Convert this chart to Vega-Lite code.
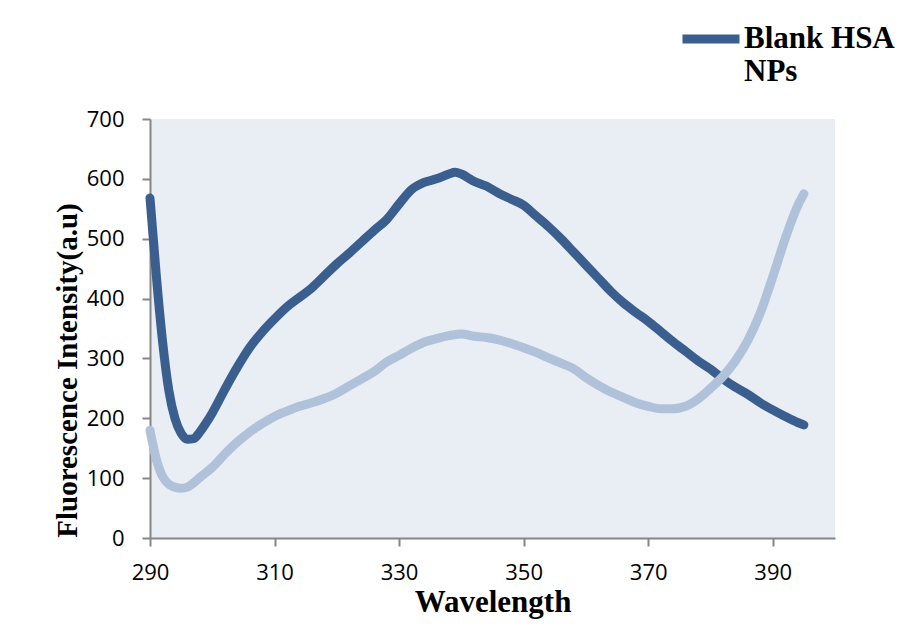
{
  "$schema": "https://vega.github.io/schema/vega-lite/v6.json",
  "autosize": {"type": "none"},
  "padding": {"left": 150, "top": 119, "right": 80, "bottom": 90},
  "width": 685,
  "height": 419,
  "background": "white",
  "config": {
    "view": {"fill": "#E9EDF4", "stroke": null},
    "axis": {
      "domainColor": "#868686",
      "domainWidth": 2,
      "tickColor": "#868686",
      "tickWidth": 2,
      "tickSize": 8,
      "grid": false,
      "labelFont": "Open Sans",
      "labelFontSize": 22,
      "labelColor": "#000000",
      "labelPadding": 18,
      "labelFlush": false,
      "titleFont": "Liberation Serif",
      "titleFontWeight": "bold",
      "titleColor": "#000000"
    }
  },
  "datasets": {
    "spectra": [
      {"wavelength": 290, "intensity": 568, "series": "Blank HSA NPs"},
      {"wavelength": 291, "intensity": 440, "series": "Blank HSA NPs"},
      {"wavelength": 292, "intensity": 330, "series": "Blank HSA NPs"},
      {"wavelength": 293, "intensity": 248, "series": "Blank HSA NPs"},
      {"wavelength": 294, "intensity": 200, "series": "Blank HSA NPs"},
      {"wavelength": 295, "intensity": 175, "series": "Blank HSA NPs"},
      {"wavelength": 296, "intensity": 165, "series": "Blank HSA NPs"},
      {"wavelength": 297, "intensity": 166, "series": "Blank HSA NPs"},
      {"wavelength": 298, "intensity": 177, "series": "Blank HSA NPs"},
      {"wavelength": 299, "intensity": 192, "series": "Blank HSA NPs"},
      {"wavelength": 300, "intensity": 209, "series": "Blank HSA NPs"},
      {"wavelength": 302, "intensity": 248, "series": "Blank HSA NPs"},
      {"wavelength": 304, "intensity": 285, "series": "Blank HSA NPs"},
      {"wavelength": 306, "intensity": 318, "series": "Blank HSA NPs"},
      {"wavelength": 308, "intensity": 344, "series": "Blank HSA NPs"},
      {"wavelength": 310, "intensity": 366, "series": "Blank HSA NPs"},
      {"wavelength": 312, "intensity": 386, "series": "Blank HSA NPs"},
      {"wavelength": 314, "intensity": 402, "series": "Blank HSA NPs"},
      {"wavelength": 316, "intensity": 418, "series": "Blank HSA NPs"},
      {"wavelength": 318, "intensity": 438, "series": "Blank HSA NPs"},
      {"wavelength": 320, "intensity": 458, "series": "Blank HSA NPs"},
      {"wavelength": 322, "intensity": 476, "series": "Blank HSA NPs"},
      {"wavelength": 324, "intensity": 495, "series": "Blank HSA NPs"},
      {"wavelength": 326, "intensity": 514, "series": "Blank HSA NPs"},
      {"wavelength": 328, "intensity": 532, "series": "Blank HSA NPs"},
      {"wavelength": 330, "intensity": 558, "series": "Blank HSA NPs"},
      {"wavelength": 332, "intensity": 582, "series": "Blank HSA NPs"},
      {"wavelength": 334, "intensity": 594, "series": "Blank HSA NPs"},
      {"wavelength": 336, "intensity": 600, "series": "Blank HSA NPs"},
      {"wavelength": 338, "intensity": 608, "series": "Blank HSA NPs"},
      {"wavelength": 339, "intensity": 611, "series": "Blank HSA NPs"},
      {"wavelength": 340, "intensity": 608, "series": "Blank HSA NPs"},
      {"wavelength": 342, "intensity": 596, "series": "Blank HSA NPs"},
      {"wavelength": 344, "intensity": 588, "series": "Blank HSA NPs"},
      {"wavelength": 346, "intensity": 576, "series": "Blank HSA NPs"},
      {"wavelength": 348, "intensity": 566, "series": "Blank HSA NPs"},
      {"wavelength": 350, "intensity": 556, "series": "Blank HSA NPs"},
      {"wavelength": 352, "intensity": 538, "series": "Blank HSA NPs"},
      {"wavelength": 354, "intensity": 520, "series": "Blank HSA NPs"},
      {"wavelength": 356, "intensity": 500, "series": "Blank HSA NPs"},
      {"wavelength": 358, "intensity": 478, "series": "Blank HSA NPs"},
      {"wavelength": 360, "intensity": 456, "series": "Blank HSA NPs"},
      {"wavelength": 362, "intensity": 434, "series": "Blank HSA NPs"},
      {"wavelength": 364, "intensity": 412, "series": "Blank HSA NPs"},
      {"wavelength": 366, "intensity": 393, "series": "Blank HSA NPs"},
      {"wavelength": 368, "intensity": 377, "series": "Blank HSA NPs"},
      {"wavelength": 370, "intensity": 362, "series": "Blank HSA NPs"},
      {"wavelength": 372, "intensity": 345, "series": "Blank HSA NPs"},
      {"wavelength": 374, "intensity": 328, "series": "Blank HSA NPs"},
      {"wavelength": 376, "intensity": 312, "series": "Blank HSA NPs"},
      {"wavelength": 378, "intensity": 296, "series": "Blank HSA NPs"},
      {"wavelength": 380, "intensity": 282, "series": "Blank HSA NPs"},
      {"wavelength": 382, "intensity": 266, "series": "Blank HSA NPs"},
      {"wavelength": 384, "intensity": 252, "series": "Blank HSA NPs"},
      {"wavelength": 386, "intensity": 240, "series": "Blank HSA NPs"},
      {"wavelength": 388, "intensity": 226, "series": "Blank HSA NPs"},
      {"wavelength": 390, "intensity": 214, "series": "Blank HSA NPs"},
      {"wavelength": 392, "intensity": 203, "series": "Blank HSA NPs"},
      {"wavelength": 394, "intensity": 193, "series": "Blank HSA NPs"},
      {"wavelength": 395, "intensity": 189, "series": "Blank HSA NPs"},
      {"wavelength": 290, "intensity": 180, "series": "Other"},
      {"wavelength": 291, "intensity": 132, "series": "Other"},
      {"wavelength": 292, "intensity": 103, "series": "Other"},
      {"wavelength": 293, "intensity": 90, "series": "Other"},
      {"wavelength": 294, "intensity": 85, "series": "Other"},
      {"wavelength": 295, "intensity": 83, "series": "Other"},
      {"wavelength": 296, "intensity": 85, "series": "Other"},
      {"wavelength": 297, "intensity": 92, "series": "Other"},
      {"wavelength": 298, "intensity": 101, "series": "Other"},
      {"wavelength": 300, "intensity": 118, "series": "Other"},
      {"wavelength": 302, "intensity": 140, "series": "Other"},
      {"wavelength": 304, "intensity": 160, "series": "Other"},
      {"wavelength": 306, "intensity": 177, "series": "Other"},
      {"wavelength": 308, "intensity": 191, "series": "Other"},
      {"wavelength": 310, "intensity": 203, "series": "Other"},
      {"wavelength": 312, "intensity": 212, "series": "Other"},
      {"wavelength": 314, "intensity": 220, "series": "Other"},
      {"wavelength": 316, "intensity": 226, "series": "Other"},
      {"wavelength": 318, "intensity": 233, "series": "Other"},
      {"wavelength": 320, "intensity": 242, "series": "Other"},
      {"wavelength": 322, "intensity": 254, "series": "Other"},
      {"wavelength": 324, "intensity": 266, "series": "Other"},
      {"wavelength": 326, "intensity": 278, "series": "Other"},
      {"wavelength": 328, "intensity": 294, "series": "Other"},
      {"wavelength": 330, "intensity": 305, "series": "Other"},
      {"wavelength": 332, "intensity": 317, "series": "Other"},
      {"wavelength": 334, "intensity": 327, "series": "Other"},
      {"wavelength": 336, "intensity": 333, "series": "Other"},
      {"wavelength": 338, "intensity": 338, "series": "Other"},
      {"wavelength": 340, "intensity": 341, "series": "Other"},
      {"wavelength": 342, "intensity": 337, "series": "Other"},
      {"wavelength": 344, "intensity": 335, "series": "Other"},
      {"wavelength": 346, "intensity": 331, "series": "Other"},
      {"wavelength": 348, "intensity": 325, "series": "Other"},
      {"wavelength": 350, "intensity": 318, "series": "Other"},
      {"wavelength": 352, "intensity": 310, "series": "Other"},
      {"wavelength": 354, "intensity": 301, "series": "Other"},
      {"wavelength": 356, "intensity": 292, "series": "Other"},
      {"wavelength": 358, "intensity": 283, "series": "Other"},
      {"wavelength": 360, "intensity": 268, "series": "Other"},
      {"wavelength": 362, "intensity": 255, "series": "Other"},
      {"wavelength": 364, "intensity": 244, "series": "Other"},
      {"wavelength": 366, "intensity": 235, "series": "Other"},
      {"wavelength": 368, "intensity": 226, "series": "Other"},
      {"wavelength": 370, "intensity": 220, "series": "Other"},
      {"wavelength": 372, "intensity": 216, "series": "Other"},
      {"wavelength": 374, "intensity": 216, "series": "Other"},
      {"wavelength": 376, "intensity": 220, "series": "Other"},
      {"wavelength": 378, "intensity": 232, "series": "Other"},
      {"wavelength": 380, "intensity": 250, "series": "Other"},
      {"wavelength": 382, "intensity": 270, "series": "Other"},
      {"wavelength": 384, "intensity": 296, "series": "Other"},
      {"wavelength": 386, "intensity": 330, "series": "Other"},
      {"wavelength": 388, "intensity": 376, "series": "Other"},
      {"wavelength": 390, "intensity": 436, "series": "Other"},
      {"wavelength": 392, "intensity": 500, "series": "Other"},
      {"wavelength": 394, "intensity": 555, "series": "Other"},
      {"wavelength": 395, "intensity": 575, "series": "Other"}
    ]
  },
  "data": {"name": "spectra"},
  "encoding": {
    "x": {
      "field": "wavelength",
      "type": "quantitative",
      "scale": {"domain": [290, 400], "nice": false, "zero": false},
      "axis": {
        "values": [290, 310, 330, 350, 370, 390],
        "labelPadding": 16,
        "title": "Wavelength",
        "titleFontSize": 31,
        "titleBaseline": "alphabetic",
        "titleY": 73
      }
    },
    "y": {
      "field": "intensity",
      "type": "quantitative",
      "scale": {"domain": [0, 700], "nice": false},
      "axis": {
        "values": [0, 100, 200, 300, 400, 500, 600, 700],
        "title": "Fluorescence Intensity(a.u)",
        "titleFontSize": 29,
        "titleAngle": -90,
        "titleAlign": "center",
        "titleBaseline": "alphabetic",
        "titleX": -74,
        "titleY": 251
      }
    },
    "color": {
      "field": "series",
      "type": "nominal",
      "scale": {"domain": ["Blank HSA NPs", "Other"], "range": ["#3A5F8F", "#B0C1DA"]},
      "legend": {
        "values": ["Blank HSA NPs"],
        "orient": "none",
        "legendX": 528,
        "legendY": -113,
        "title": null,
        "padding": 0,
        "symbolType": "stroke",
        "symbolSize": 3249,
        "symbolStrokeWidth": 9,
        "labelExpr": "['Blank HSA', 'NPs']",
        "labelFont": "Liberation Serif",
        "labelFontWeight": "bold",
        "labelFontSize": 31,
        "labelColor": "#000000",
        "labelOffset": 0,
        "labelLimit": 400,
        "labelBaseline": "middle",
        "labelLineHeight": 31
      }
    }
  },
  "layer": [
    {
      "transform": [{"filter": "datum.series === 'Blank HSA NPs'"}],
      "mark": {"type": "line", "strokeWidth": 9, "strokeCap": "round", "strokeJoin": "round", "interpolate": "monotone"}
    },
    {
      "transform": [{"filter": "datum.series === 'Other'"}],
      "mark": {"type": "line", "strokeWidth": 9, "strokeCap": "round", "strokeJoin": "round", "interpolate": "monotone"}
    }
  ]
}
